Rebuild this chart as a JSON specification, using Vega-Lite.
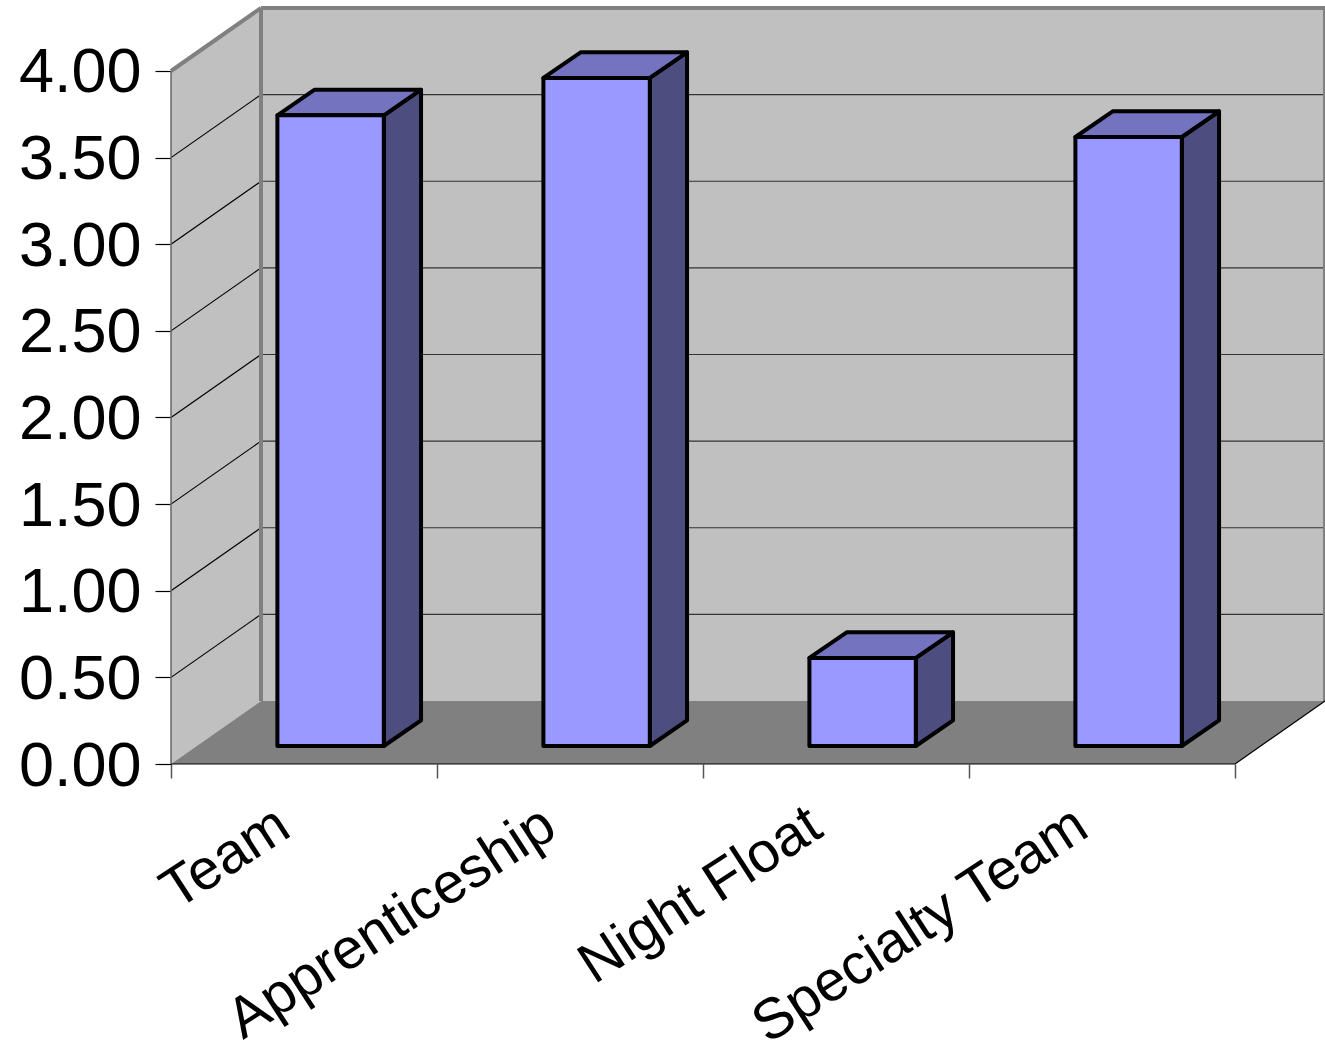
{
"$schema":"https://vega.github.io/schema/vega-lite/v6.json",
"width":1154,"height":756,
"autosize":{"type":"none"},
"padding":{"left":171,"top":8,"right":0,"bottom":289},
"background":"white",
"config":{"view":{"stroke":null}},
"datasets":{
"bars":[{"category":"Team","value":3.64},{"category":"Apprenticeship","value":3.856},{"category":"Night Float","value":0.508},{"category":"Specialty Team","value":3.515}],
"grid":[{"tick":0.5},{"tick":1},{"tick":1.5},{"tick":2},{"tick":2.5},{"tick":3},{"tick":3.5}],
"depth":[{"depth":0},{"depth":1}],
"one":[{"part":"frame"}]
},
"layer":[
{"data":{"name":"depth"},"transform":[{"calculate":"datum.depth*0.3383","as":"px"},{"calculate":"datum.depth*0.3636","as":"py"},{"calculate":"4+datum.py","as":"py2"}],
"mark":{"type":"area","fill":"#C0C0C0","orient":"vertical"},
"encoding":{"x":{"field":"px","type":"quantitative","scale":{"domain":[0,4.3383],"nice":false,"zero":false},"axis":{"values":[0,1,2,3,4],"labels":false,"domain":false,"grid":false,"tickSize":14,"tickColor":"#555555","tickWidth":1.5,"title":null}},
"y":{"field":"py","type":"quantitative","stack":null,"scale":{"domain":[0,4.3636],"nice":false,"zero":false},"axis":{"values":[0,0.5,1,1.5,2,2.5,3,3.5,4],"format":".2f","labelFont":"Liberation Sans","labelFontSize":63,"labelColor":"black","labelPadding":14,"labelOffset":2,"domain":false,"grid":false,"tickSize":16,"tickColor":"black","tickWidth":1.2,"title":null}},"y2":{"field":"py2"}}},
{"data":{"name":"one"},"mark":{"type":"rect","fill":"#C0C0C0"},
"encoding":{"x":{"datum":0.3383,"type":"quantitative"},"x2":{"datum":4.3383},"y":{"datum":0.3636,"type":"quantitative"},"y2":{"datum":4.3636}}},
{"data":{"name":"depth"},"transform":[{"calculate":"datum.depth*0.3383","as":"px"},{"calculate":"datum.depth*0.3636","as":"py"},{"calculate":"4+datum.px","as":"px2"}],
"mark":{"type":"area","fill":"#808080","orient":"horizontal"},
"encoding":{"y":{"field":"py","type":"quantitative"},"x":{"field":"px","type":"quantitative","stack":null},"x2":{"field":"px2"}}},
{"data":{"name":"grid"},"transform":[{"calculate":"datum.tick+0.3636","as":"py"}],
"mark":{"type":"rule","stroke":"#333333","strokeWidth":1.2},
"encoding":{"x":{"datum":0.3383,"type":"quantitative"},"x2":{"datum":4.3383},"y":{"field":"py","type":"quantitative"}}},
{"data":{"name":"grid"},"transform":[{"calculate":"datum.tick+0.3636","as":"py"}],
"mark":{"type":"rule","stroke":"black","strokeWidth":1.2},
"encoding":{"x":{"datum":0,"type":"quantitative"},"x2":{"datum":0.3383},"y":{"field":"tick","type":"quantitative"},"y2":{"field":"py"}}},
{"data":{"name":"one"},"mark":{"type":"rule","stroke":"#808080","strokeWidth":4},
"encoding":{"x":{"datum":0.3383,"type":"quantitative"},"y":{"datum":0.3636,"type":"quantitative"},"y2":{"datum":4.3636}}},
{"data":{"name":"one"},"mark":{"type":"rule","stroke":"#808080","strokeWidth":4},
"encoding":{"x":{"datum":0.3383,"type":"quantitative"},"x2":{"datum":4.3383},"y":{"datum":4.3636,"type":"quantitative"}}},
{"data":{"name":"one"},"mark":{"type":"rule","stroke":"#808080","strokeWidth":4},
"encoding":{"x":{"datum":4.3383,"type":"quantitative"},"y":{"datum":0.3636,"type":"quantitative"},"y2":{"datum":4.3636}}},
{"data":{"name":"one"},"mark":{"type":"rule","stroke":"#808080","strokeWidth":4},
"encoding":{"x":{"datum":0,"type":"quantitative"},"x2":{"datum":0.3383},"y":{"datum":4,"type":"quantitative"},"y2":{"datum":4.3636}}},
{"data":{"name":"one"},"mark":{"type":"rule","stroke":"#666666","strokeWidth":1.5},
"encoding":{"x":{"datum":0,"type":"quantitative"},"y":{"datum":0,"type":"quantitative"},"y2":{"datum":4}}},
{"data":{"name":"one"},"mark":{"type":"rule","stroke":"black","strokeWidth":1.2},
"encoding":{"x":{"datum":0,"type":"quantitative"},"x2":{"datum":4},"y":{"datum":0,"type":"quantitative"}}},
{"data":{"name":"one"},"mark":{"type":"rule","stroke":"black","strokeWidth":1.2},
"encoding":{"x":{"datum":4,"type":"quantitative"},"x2":{"datum":4.3383},"y":{"datum":0,"type":"quantitative"},"y2":{"datum":0.3636}}},
{"data":{"name":"bars"},"transform":[
{"calculate":"indexof(['Team','Apprenticeship','Night Float','Specialty Team'],datum.category)","as":"i"},
{"calculate":"[0,1]","as":"s"},{"flatten":["s"]},
{"calculate":"datum.i+0.8+datum.s*0.14","as":"px"},
{"calculate":"0.104+datum.s*0.148","as":"py"},
{"calculate":"datum.value+datum.py","as":"py2"}],
"mark":{"type":"area","fill":"#4D4D80","stroke":"black","strokeWidth":4,"strokeJoin":"round","orient":"vertical"},
"encoding":{"x":{"field":"px","type":"quantitative"},"y":{"field":"py","type":"quantitative","stack":null},"y2":{"field":"py2"},"detail":{"field":"category"}}},
{"data":{"name":"bars"},"transform":[
{"calculate":"indexof(['Team','Apprenticeship','Night Float','Specialty Team'],datum.category)","as":"i"},
{"calculate":"[0,1]","as":"s"},{"flatten":["s"]},
{"calculate":"datum.i+0.4+datum.s*0.14","as":"px"},
{"calculate":"datum.px+0.4","as":"px2"},
{"calculate":"datum.value+0.104+datum.s*0.148","as":"py"}],
"mark":{"type":"area","fill":"#7373BF","stroke":"black","strokeWidth":4,"strokeJoin":"round","orient":"horizontal"},
"encoding":{"y":{"field":"py","type":"quantitative"},"x":{"field":"px","type":"quantitative","stack":null},"x2":{"field":"px2"},"detail":{"field":"category"}}},
{"data":{"name":"bars"},"transform":[
{"calculate":"indexof(['Team','Apprenticeship','Night Float','Specialty Team'],datum.category)","as":"i"},
{"calculate":"datum.i+0.4","as":"px"},
{"calculate":"datum.i+0.8","as":"px2"},
{"calculate":"datum.value+0.104","as":"py2"},
{"calculate":"0.104","as":"py"}],
"mark":{"type":"rect","fill":"#9999FF","stroke":"black","strokeWidth":4,"strokeJoin":"round"},
"encoding":{"x":{"field":"px","type":"quantitative"},"x2":{"field":"px2"},"y":{"field":"py","type":"quantitative"},"y2":{"field":"py2"}}},
{"data":{"name":"bars"},"transform":[
{"calculate":"indexof(['Team','Apprenticeship','Night Float','Specialty Team'],datum.category)+0.425","as":"px"}],
"mark":{"type":"text","angle":327,"align":"right","baseline":"middle","font":"Liberation Sans","fontSize":57,"color":"black"},
"encoding":{"x":{"field":"px","type":"quantitative"},"y":{"datum":-0.325,"type":"quantitative"},"text":{"field":"category"}}}
],
"resolve":{"scale":{"x":"shared","y":"shared"}}
}
